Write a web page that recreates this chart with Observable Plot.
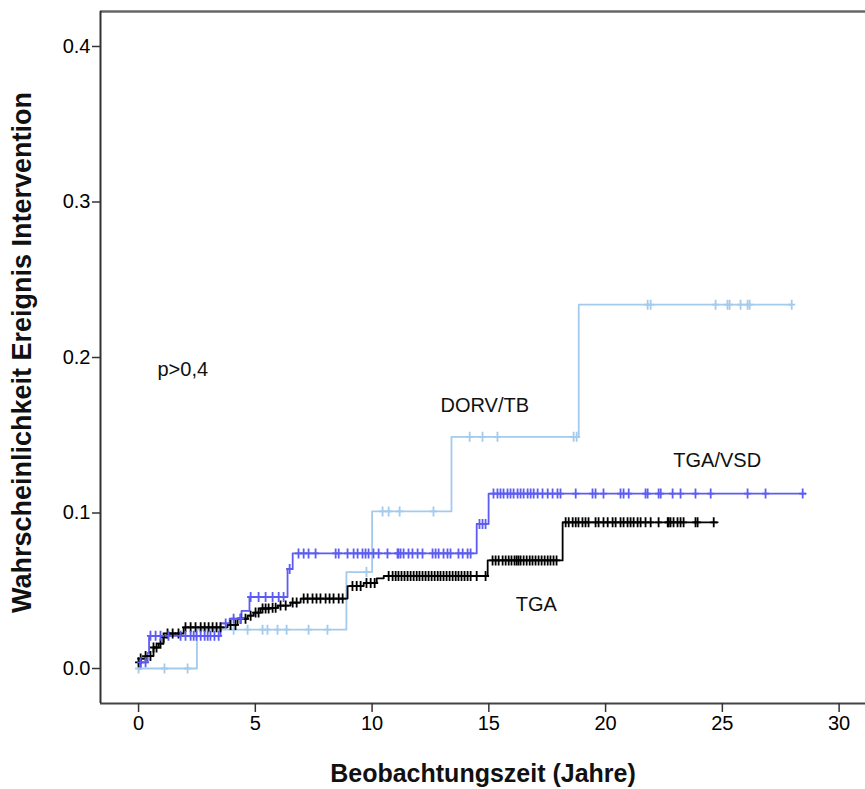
<!DOCTYPE html>
<html><head><meta charset="utf-8">
<script src="https://cdn.jsdelivr.net/npm/d3@7"></script>
<script src="https://cdn.jsdelivr.net/npm/@observablehq/plot@0.6"></script>
<style>body{margin:0;background:#fff;} svg{display:block;}</style>
</head><body><div id="chart"></div>
<script>
// ---- tick labels / categories ----
const xTicks = [0, 5, 10, 15, 20, 25, 30];
const yTicks = [0.0, 0.1, 0.2, 0.3, 0.4];
const groups = ["DORV/TB", "TGA", "TGA/VSD"];
const groupColors = ["#a4caec", "#000000", "#5c5cf2"];

// ---- TGA (black) step function ----
const tgaStepT = [0, 0.09, 0.30, 0.64, 0.86, 1.07, 1.24, 1.93, 3.81, 4.24, 4.67, 4.93, 5.22, 5.65, 5.95, 6.51, 6.94, 8.95, 9.64, 10.2, 10.5, 14.95, 18.16];
const tgaStepP = [0.004, 0.0064, 0.008, 0.0135, 0.016, 0.020, 0.0225, 0.0265, 0.028, 0.032, 0.034, 0.036, 0.0386, 0.039, 0.0405, 0.0424, 0.045, 0.053, 0.055, 0.058, 0.0595, 0.0695, 0.094];
const tgaEnd = 24.8;
const tgaCensor = [0, 0.09, 0.30, 0.51, 0.64, 0.77, 0.94, 1.07, 1.24, 1.46, 1.71, 2.01, 2.23, 2.44, 2.66, 2.83, 3.00, 3.17, 3.34, 3.51,
  3.94, 4.15, 4.37, 4.58, 4.80, 5.01, 5.14, 5.31, 5.44, 5.57, 5.74, 5.87, 6.08, 6.30, 6.60, 6.77,
  7.07, 7.24, 7.45, 7.62, 7.79, 8.01, 8.18, 8.35, 8.57, 8.74, 9.16, 9.34, 9.51, 9.76, 9.94, 10.11,
  10.71, 10.88, 11.01, 11.13, 11.26, 11.39, 11.52, 11.65, 11.78, 11.91, 12.03, 12.16, 12.29, 12.42, 12.55, 12.68, 12.81, 12.93,
  13.06, 13.19, 13.32, 13.45, 13.58, 13.70, 13.83, 13.96, 14.09, 14.22, 14.48, 14.86,
  15.16, 15.29, 15.42, 15.59, 15.72, 15.85, 15.97, 16.10, 16.19, 16.27, 16.36, 16.49, 16.62, 16.75, 16.87, 17.00, 17.13, 17.26, 17.39, 17.52, 17.64, 17.77, 17.90,
  18.29, 18.42, 18.59, 18.72, 18.84, 19.01, 19.14, 19.27, 19.57, 19.70, 19.91, 20.09, 20.30, 20.43, 20.64, 20.77, 20.94, 21.07, 21.20, 21.37, 21.50, 21.71, 21.93,
  22.27, 22.66, 22.70, 22.78, 22.91, 23.08, 23.21, 23.34, 23.85, 23.94, 24.63];

// ---- TGA/VSD (blue) step function ----
const vsdStepT = [0, 0.09, 0.39, 0.45, 3.51, 3.90, 4.41, 4.75, 6.38, 6.60, 14.48, 14.99];
const vsdStepP = [0, 0.004, 0.010, 0.021, 0.029, 0.032, 0.037, 0.046, 0.064, 0.074, 0.093, 0.1125];
const vsdEnd = 28.57;
const vsdCensor = [0.09, 0.30, 0.51, 0.73, 0.94, 1.28, 1.80, 2.01, 2.23, 2.36, 2.48, 2.66, 2.83, 2.96, 3.08, 3.25, 3.43, 3.73, 4.07, 4.37,
  4.80, 5.14, 5.44, 5.74, 6.00, 6.21, 6.47, 6.85, 7.07, 7.28, 7.58, 8.44, 8.57, 8.95, 9.21, 9.38, 9.59, 9.72, 9.85, 10.06, 10.28, 10.66,
  11.09, 11.13, 11.22, 11.35, 11.56, 11.73, 11.95, 12.16, 12.59, 12.72, 12.85, 13.06, 13.23, 13.36, 13.70, 13.88, 14.09, 14.22,
  14.60, 14.73, 14.86, 15.20, 15.37, 15.50, 15.63, 15.80, 15.93, 16.06, 16.23, 16.36, 16.49, 16.66, 16.79, 16.92, 17.09, 17.30, 17.52, 17.73, 17.94, 18.07,
  18.72, 19.44, 19.57, 19.91, 20.64, 20.77, 20.99, 21.71, 21.80, 22.27, 22.36, 22.87, 23.21, 23.85, 24.50, 26.08, 26.85, 28.44];

// ---- DORV/TB (light blue) step function ----
const dorvStepT = [0, 2.50, 8.90, 10.00, 13.40, 18.85];
const dorvStepP = [0, 0.025, 0.062, 0.101, 0.149, 0.234];
const dorvEnd = 27.97;
const dorvCensor = [0, 1.11, 2.10, 4.07, 4.67, 5.31, 5.52, 5.95, 6.34, 7.28, 8.09, 9.76, 10.45, 10.71, 11.18, 12.63,
  14.18, 14.73, 15.37, 18.63, 18.76, 21.80, 21.93, 24.71, 25.22, 25.31, 25.78, 26.08, 26.17, 27.97];

// ---- annotation texts ----
const labelTexts = ["DORV/TB", "TGA/VSD", "TGA", "p>0,4"];
const labelT = [12.93, 22.9, 16.15, 0.81];
const labelP = [0.169, 0.134, 0.041, 0.192];

// ---- build tables ----
function stepRows(group, T, P, end) {
  const rows = T.map((t, i) => ({group, t, p: P[i]}));
  rows.push({group, t: end, p: P[P.length - 1]});
  return rows;
}
function censorRows(group, T, P, C) {
  return C.map(c => {
    let i = d3.bisectRight(T, c) - 1;
    if (i < 0) i = 0;
    return {group, t: c, p: P[i]};
  });
}
const series = {
  "DORV/TB": [dorvStepT, dorvStepP, dorvEnd, dorvCensor],
  "TGA": [tgaStepT, tgaStepP, tgaEnd, tgaCensor],
  "TGA/VSD": [vsdStepT, vsdStepP, vsdEnd, vsdCensor]
};
const lines = [], censors = [];
for (const g of groups) {
  const [T, P, E, C] = series[g];
  lines.push(...stepRows(g, T, P, E));
  censors.push(...censorRows(g, T, P, C));
}
const labels = labelTexts.map((s, i) => ({s, t: labelT[i], p: labelP[i]}));

const plusSym = {draw(ctx) { ctx.moveTo(0, -5); ctx.lineTo(0, 5); ctx.moveTo(-3.5, 0); ctx.lineTo(3.5, 0); }};
const xDom = [-1.63, 31.13], yDom = [-0.0225, 0.4225];
const font = "'Liberation Sans', Arial, sans-serif";

const chart = Plot.plot({
  width: 865, height: 789,
  marginLeft: 100, marginRight: 0, marginTop: 11, marginBottom: 86,
  style: {fontFamily: font, background: "#fff", color: "#000"},
  x: {domain: xDom},
  y: {domain: yDom},
  color: {domain: groups, range: groupColors},
  marks: [
    Plot.ruleY([yDom[1]], {stroke: "#666", strokeWidth: 2.5}),
    Plot.ruleY([yDom[0]], {stroke: "#444", strokeWidth: 2}),
    Plot.ruleX([xDom[0]], {stroke: "#333", strokeWidth: 2}),
    Plot.axisX(xTicks, {tickSize: 9, tickPadding: 3, fontSize: 20, label: null, stroke: "#333", strokeWidth: 1.5}),
    Plot.axisY(yTicks, {tickSize: 8, tickPadding: 2, fontSize: 20, tickFormat: d3.format(".1f"), label: null, stroke: "#333", strokeWidth: 1.5}),
    Plot.line(lines, {x: "t", y: "p", z: "group", stroke: "group", strokeWidth: 1.8, curve: "step-after"}),
    Plot.dot(censors, {x: "t", y: "p", stroke: "group", fill: "none", symbol: plusSym, r: 4, strokeWidth: 1.8}),
    Plot.text(labels, {x: "t", y: "p", text: "s", textAnchor: "start", fontSize: 20, fill: "#111"}),
    Plot.text(["Wahrscheinlichkeit Ereignis Intervention"], {text: d => d, frameAnchor: "left", rotate: -90, dx: -89, dy: -5, lineAnchor: "top", textAnchor: "middle", fontWeight: "bold", fontSize: 27, fill: "#111"}),
    Plot.text(["Beobachtungszeit (Jahre)"], {text: d => d, frameAnchor: "bottom", dy: 70, lineAnchor: "middle", textAnchor: "middle", fontWeight: "bold", fontSize: 25, fill: "#111"})
  ]
});
document.getElementById("chart").append(chart);
</script>
</body></html>
